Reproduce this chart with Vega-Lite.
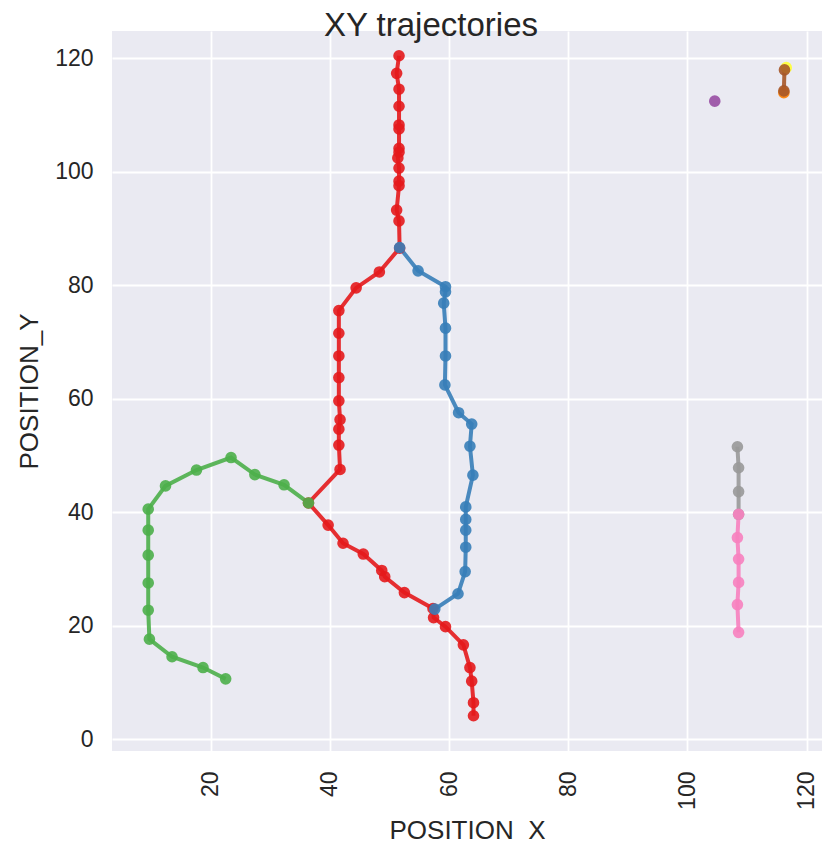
{
  "$schema": "https://vega.github.io/schema/vega-lite/v6.json",
  "width": 710,
  "height": 720,
  "autosize": {"type": "none"},
  "padding": {"left": 112, "top": 31, "right": 0, "bottom": 90},
  "background": "white",
  "title": {
    "text": "XY trajectories",
    "font": "Liberation Sans",
    "fontSize": 33,
    "fontWeight": "normal",
    "color": "#262626",
    "anchor": "middle",
    "dx": -36,
    "dy": 32,
    "baseline": "alphabetic",
    "offset": -6
  },
  "config": {
    "view": {"fill": "#EAEAF2", "stroke": null},
    "axis": {
      "grid": true,
      "gridColor": "white",
      "gridWidth": 1.8,
      "domain": false,
      "ticks": false,
      "labelFont": "Liberation Sans",
      "labelFontSize": 23,
      "labelColor": "#262626",
      "titleFont": "Liberation Sans",
      "titleFontSize": 26,
      "titleFontWeight": "normal",
      "titleColor": "#262626"
    }
  },
  "data": {
    "values": [
      {"track": "t1", "i": 1, "x": 51.6, "y": 120.4},
      {"track": "t1", "i": 2, "x": 51.2, "y": 117.3},
      {"track": "t1", "i": 3, "x": 51.6, "y": 114.5},
      {"track": "t1", "i": 4, "x": 51.6, "y": 111.5},
      {"track": "t1", "i": 5, "x": 51.6, "y": 108.2},
      {"track": "t1", "i": 6, "x": 51.6, "y": 107.5},
      {"track": "t1", "i": 7, "x": 51.6, "y": 104.1},
      {"track": "t1", "i": 8, "x": 51.6, "y": 103.4},
      {"track": "t1", "i": 9, "x": 51.4, "y": 102.4},
      {"track": "t1", "i": 10, "x": 51.6, "y": 100.6},
      {"track": "t1", "i": 11, "x": 51.6, "y": 98.3},
      {"track": "t1", "i": 12, "x": 51.6, "y": 97.5},
      {"track": "t1", "i": 13, "x": 51.2, "y": 93.2},
      {"track": "t1", "i": 14, "x": 51.6, "y": 91.3},
      {"track": "t1", "i": 15, "x": 51.7, "y": 86.5},
      {"track": "t1", "i": 16, "x": 48.3, "y": 82.3},
      {"track": "t1", "i": 17, "x": 44.4, "y": 79.5},
      {"track": "t1", "i": 18, "x": 41.5, "y": 75.5},
      {"track": "t1", "i": 19, "x": 41.5, "y": 71.5},
      {"track": "t1", "i": 20, "x": 41.5, "y": 67.5},
      {"track": "t1", "i": 21, "x": 41.5, "y": 63.7},
      {"track": "t1", "i": 22, "x": 41.5, "y": 59.6},
      {"track": "t1", "i": 23, "x": 41.7, "y": 56.3},
      {"track": "t1", "i": 24, "x": 41.5, "y": 54.6},
      {"track": "t1", "i": 25, "x": 41.5, "y": 51.8},
      {"track": "t1", "i": 26, "x": 41.7, "y": 47.5},
      {"track": "t1", "i": 27, "x": 36.4, "y": 41.6},
      {"track": "t1", "i": 28, "x": 39.7, "y": 37.7},
      {"track": "t1", "i": 29, "x": 42.2, "y": 34.5},
      {"track": "t1", "i": 30, "x": 45.6, "y": 32.6},
      {"track": "t1", "i": 31, "x": 48.7, "y": 29.7},
      {"track": "t1", "i": 32, "x": 49.2, "y": 28.6},
      {"track": "t1", "i": 33, "x": 52.5, "y": 25.8},
      {"track": "t1", "i": 34, "x": 57.3, "y": 23.0},
      {"track": "t1", "i": 35, "x": 57.4, "y": 21.4},
      {"track": "t1", "i": 36, "x": 59.4, "y": 19.8},
      {"track": "t1", "i": 37, "x": 62.4, "y": 16.6},
      {"track": "t1", "i": 38, "x": 63.5, "y": 12.6},
      {"track": "t1", "i": 39, "x": 63.8, "y": 10.2},
      {"track": "t1", "i": 40, "x": 64.1, "y": 6.4},
      {"track": "t1", "i": 41, "x": 64.1, "y": 4.1},
      {"track": "t2", "i": 1, "x": 51.7, "y": 86.6},
      {"track": "t2", "i": 2, "x": 54.8, "y": 82.5},
      {"track": "t2", "i": 3, "x": 59.4, "y": 79.7},
      {"track": "t2", "i": 4, "x": 59.4, "y": 78.8},
      {"track": "t2", "i": 5, "x": 59.1, "y": 76.8},
      {"track": "t2", "i": 6, "x": 59.4, "y": 72.4},
      {"track": "t2", "i": 7, "x": 59.4, "y": 67.5},
      {"track": "t2", "i": 8, "x": 59.3, "y": 62.4},
      {"track": "t2", "i": 9, "x": 61.6, "y": 57.5},
      {"track": "t2", "i": 10, "x": 63.8, "y": 55.5},
      {"track": "t2", "i": 11, "x": 63.5, "y": 51.6},
      {"track": "t2", "i": 12, "x": 64.0, "y": 46.5},
      {"track": "t2", "i": 13, "x": 62.8, "y": 40.9},
      {"track": "t2", "i": 14, "x": 62.8, "y": 38.7},
      {"track": "t2", "i": 15, "x": 62.8, "y": 36.8},
      {"track": "t2", "i": 16, "x": 62.8, "y": 33.8},
      {"track": "t2", "i": 17, "x": 62.7, "y": 29.5},
      {"track": "t2", "i": 18, "x": 61.5, "y": 25.6},
      {"track": "t2", "i": 19, "x": 57.6, "y": 22.9},
      {"track": "t3", "i": 1, "x": 36.4, "y": 41.6},
      {"track": "t3", "i": 2, "x": 32.3, "y": 44.8},
      {"track": "t3", "i": 3, "x": 27.4, "y": 46.6},
      {"track": "t3", "i": 4, "x": 23.4, "y": 49.6},
      {"track": "t3", "i": 5, "x": 17.6, "y": 47.4},
      {"track": "t3", "i": 6, "x": 12.4, "y": 44.6},
      {"track": "t3", "i": 7, "x": 9.5, "y": 40.5},
      {"track": "t3", "i": 8, "x": 9.5, "y": 36.8},
      {"track": "t3", "i": 9, "x": 9.5, "y": 32.4},
      {"track": "t3", "i": 10, "x": 9.5, "y": 27.5},
      {"track": "t3", "i": 11, "x": 9.5, "y": 22.7},
      {"track": "t3", "i": 12, "x": 9.7, "y": 17.6},
      {"track": "t3", "i": 13, "x": 13.5, "y": 14.5},
      {"track": "t3", "i": 14, "x": 18.7, "y": 12.6},
      {"track": "t3", "i": 15, "x": 22.5, "y": 10.6},
      {"track": "t4", "i": 1, "x": 104.6, "y": 112.4},
      {"track": "t5", "i": 1, "x": 116.2, "y": 113.9},
      {"track": "t6", "i": 1, "x": 116.6, "y": 118.3},
      {"track": "t7", "i": 1, "x": 116.3, "y": 117.9},
      {"track": "t7", "i": 2, "x": 116.2, "y": 114.2},
      {"track": "t9", "i": 1, "x": 108.4, "y": 51.5},
      {"track": "t9", "i": 2, "x": 108.6, "y": 47.8},
      {"track": "t9", "i": 3, "x": 108.6, "y": 43.6},
      {"track": "t9", "i": 4, "x": 108.6, "y": 39.6},
      {"track": "t8", "i": 1, "x": 108.6, "y": 39.6},
      {"track": "t8", "i": 2, "x": 108.4, "y": 35.5},
      {"track": "t8", "i": 3, "x": 108.6, "y": 31.7},
      {"track": "t8", "i": 4, "x": 108.6, "y": 27.6},
      {"track": "t8", "i": 5, "x": 108.4, "y": 23.7},
      {"track": "t8", "i": 6, "x": 108.6, "y": 18.8}
    ]
  },
  "encoding": {
    "x": {
      "field": "x",
      "type": "quantitative",
      "title": "POSITION_X",
      "scale": {"domain": [3.42, 122.6], "nice": false, "zero": false},
      "axis": {"values": [20, 40, 60, 80, 100, 120], "labelAngle": -90, "labelAlign": "right", "labelBaseline": "middle", "labelPadding": 20, "titlePadding": 8}
    },
    "y": {
      "field": "y",
      "type": "quantitative",
      "title": "POSITION_Y",
      "scale": {"domain": [-2.11, 124.76], "nice": false, "zero": false},
      "axis": {"values": [0, 20, 40, 60, 80, 100, 120], "labelPadding": 19, "titlePadding": 12}
    },
    "color": {
      "field": "track",
      "type": "nominal",
      "legend": null,
      "scale": {
        "domain": ["t1", "t2", "t3", "t4", "t5", "t6", "t7", "t8", "t9"],
        "range": ["#e41a1c", "#377eb8", "#4daf4a", "#984ea3", "#ff7f00", "#ffff33", "#a65628", "#f781bf", "#999999"]
      }
    }
  },
  "layer": [
    {
      "mark": {"type": "line", "strokeWidth": 4, "opacity": 0.9},
      "encoding": {"order": {"field": "i", "type": "quantitative"}}
    },
    {
      "mark": {"type": "circle", "size": 135, "opacity": 0.9}
    }
  ]
}
